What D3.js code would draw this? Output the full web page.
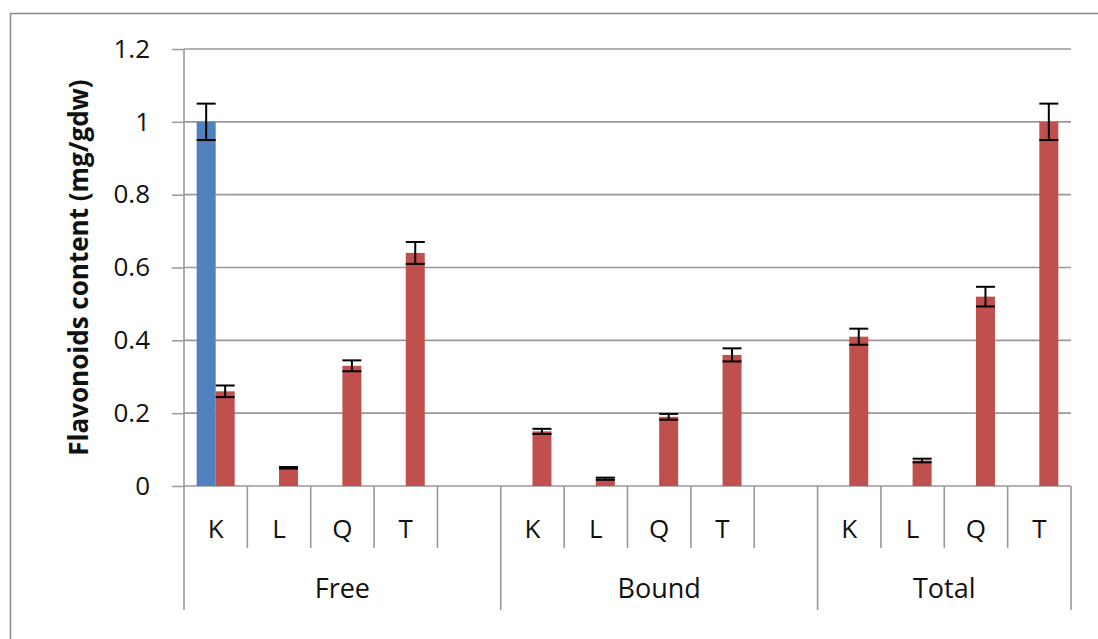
<!DOCTYPE html>
<html>
<head>
<meta charset="utf-8">
<script src="https://cdn.jsdelivr.net/npm/d3@7/dist/d3.min.js"></script>
<style>
  html, body { margin: 0; padding: 0; background: #fff; }
  svg { display: block; }
  text { font-family: "Open Sans", Lato, "Noto Sans", sans-serif; fill: #111; }
</style>
</head>
<body>
<svg id="chart" width="1098" height="639"></svg>
<script>
// Category slots along the x axis (blank slots separate the groups)
const slotLabels = ["K", "L", "Q", "T", "", "K", "L", "Q", "T", "", "K", "L", "Q", "T"];
const groupNames = ["Free", "Bound", "Total"];
const groupStart = [0, 5, 10];
const groupEnd = [5, 10, 14];

// Series 1 (blue): only the Free / K reference bar
const seriesBlue = [1.0, null, null, null, null, null, null, null, null, null, null, null, null, null];
const errorBlue = [0.05, null, null, null, null, null, null, null, null, null, null, null, null, null];

// Series 2 (red): flavonoid content per sample
const seriesRed = [0.26, 0.05, 0.33, 0.64, null, 0.15, 0.02, 0.19, 0.36, null, 0.41, 0.07, 0.52, 1.0];
const errorRed = [0.016, 0.002, 0.015, 0.03, null, 0.007, 0.003, 0.008, 0.018, null, 0.022, 0.005, 0.027, 0.05];

const yTicks = [0, 0.2, 0.4, 0.6, 0.8, 1.0, 1.2];
const yTitle = "Flavonoids content (mg/gdw)";

const colors = { blue: "#4F81BD", red: "#C0504D" };

const svg = d3.select("#chart");
const plotLeft = 184, plotRight = 1071, plotTop = 49, plotBottom = 486;

// outer chart frame
svg.append("rect")
  .attr("x", 10.5).attr("y", 13.5)
  .attr("width", 1100).attr("height", 640)
  .attr("fill", "none").attr("stroke", "#8c8c8c").attr("stroke-width", 1.5);

const x = d3.scaleBand().domain(d3.range(slotLabels.length)).range([plotLeft, plotRight]).padding(0);
const y = d3.scaleLinear().domain([0, 1.2]).range([plotBottom, plotTop]);
const barW = 19;
const inner = d3.scaleBand().domain(["blue", "red"])
  .range([x.bandwidth() / 2 - barW, x.bandwidth() / 2 + barW]).padding(0);

// y axis ticks and labels
const yAxis = d3.axisLeft(y).tickValues(yTicks)
  .tickFormat(d => d === 0 ? "0" : d3.format("~g")(d))
  .tickSize(12).tickPadding(22);
const gy = svg.append("g").attr("transform", `translate(${plotLeft},0)`).call(yAxis);
gy.select(".domain").remove();
gy.selectAll(".tick line").attr("stroke", "#999").attr("stroke-width", 1.5);
gy.selectAll(".tick text").style("font-size", "26px").attr("fill", "#111")
  .attr("font-family", "'Open Sans', Lato, sans-serif");

// horizontal gridlines
svg.append("g").selectAll("line").data(yTicks).join("line")
  .attr("x1", plotLeft).attr("x2", plotRight)
  .attr("y1", d => y(d)).attr("y2", d => y(d))
  .attr("stroke", "#999").attr("stroke-width", 1.6);

// vertical axis line, extended down through the category rows
svg.append("line").attr("x1", plotLeft).attr("x2", plotLeft).attr("y1", plotTop).attr("y2", 610)
  .attr("stroke", "#999").attr("stroke-width", 1.6);

// separators between categories (short) and between groups (long)
const boundaries = d3.range(1, slotLabels.length + 1);
const groupBounds = new Set(groupEnd);
svg.append("g").selectAll("line").data(boundaries).join("line")
  .attr("x1", i => x(i - 1) + x.bandwidth()).attr("x2", i => x(i - 1) + x.bandwidth())
  .attr("y1", plotBottom)
  .attr("y2", i => groupBounds.has(i) ? 610 : 548)
  .attr("stroke", "#999").attr("stroke-width", 1.6);

// category letters
svg.append("g").selectAll("text").data(slotLabels).join("text")
  .attr("x", (d, i) => x(i) + x.bandwidth() / 2)
  .attr("y", 538)
  .attr("text-anchor", "middle")
  .style("font-size", "26px")
  .text(d => d);

// group labels
svg.append("g").selectAll("text").data(groupNames).join("text")
  .attr("x", (d, i) => (x(groupStart[i]) + x(groupEnd[i] - 1) + x.bandwidth()) / 2)
  .attr("y", 598)
  .attr("text-anchor", "middle")
  .style("font-size", "27px")
  .text(d => d);

// y axis title
svg.append("text")
  .attr("transform", `translate(88,${(plotTop + plotBottom) / 2}) rotate(-90)`)
  .attr("text-anchor", "middle")
  .style("font-size", "26px").style("font-weight", "bold")
  .text(yTitle);

// bars and error bars
const series = [
  { key: "blue", values: seriesBlue, errors: errorBlue },
  { key: "red", values: seriesRed, errors: errorRed }
];

series.forEach(s => {
  const pts = s.values.map((v, i) => ({ i, v, e: s.errors[i] })).filter(d => d.v != null);
  const g = svg.append("g");
  g.selectAll("rect").data(pts).join("rect")
    .attr("x", d => x(d.i) + inner(s.key))
    .attr("width", inner.bandwidth())
    .attr("y", d => y(d.v))
    .attr("height", d => y(0) - y(d.v))
    .attr("fill", colors[s.key]);

  const eg = svg.append("g").attr("stroke", "#000").attr("stroke-width", 2);
  pts.forEach(d => {
    const cx = x(d.i) + inner(s.key) + inner.bandwidth() / 2;
    const hw = inner.bandwidth() / 2;
    const y1 = y(d.v + d.e), y2 = y(d.v - d.e);
    eg.append("line").attr("x1", cx).attr("x2", cx).attr("y1", y1).attr("y2", y2);
    eg.append("line").attr("x1", cx - hw).attr("x2", cx + hw).attr("y1", y1).attr("y2", y1);
    eg.append("line").attr("x1", cx - hw).attr("x2", cx + hw).attr("y1", y2).attr("y2", y2);
  });
});
</script>
</body>
</html>
